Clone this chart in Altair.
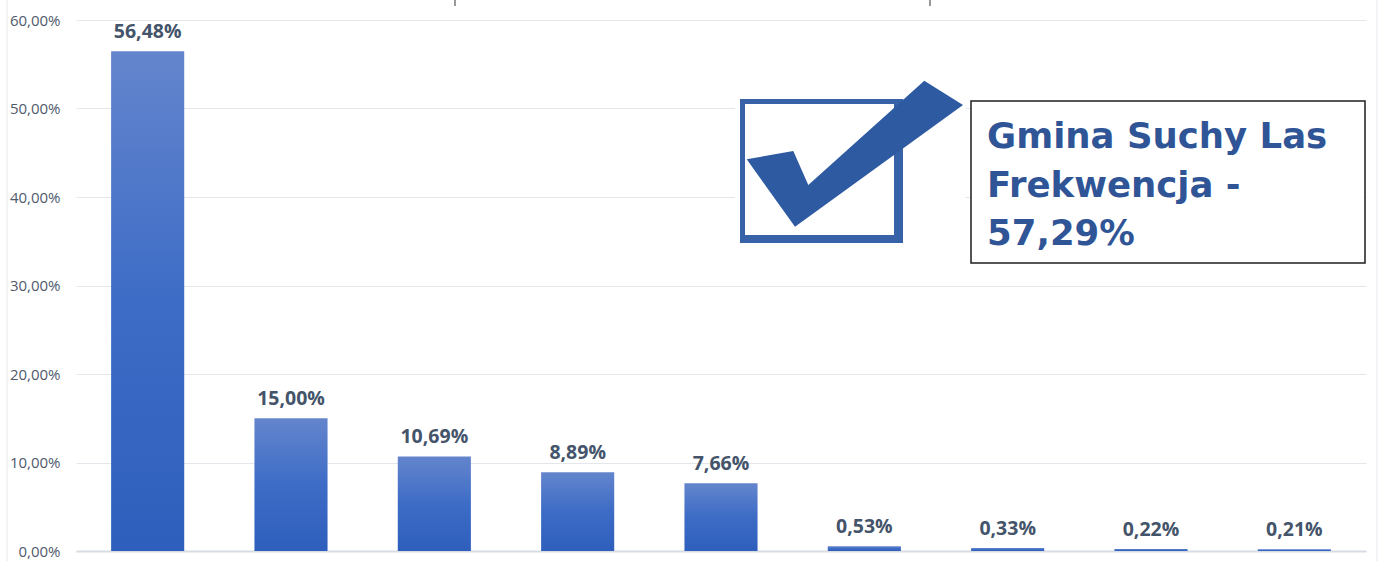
import altair as alt
import pandas as pd

# ---- data ----
categories = ["Kandydat 1", "Kandydat 2", "Kandydat 3", "Kandydat 4", "Kandydat 5",
              "Kandydat 6", "Kandydat 7", "Kandydat 8", "Kandydat 9"]
values = [56.48, 15.00, 10.69, 8.89, 7.66, 0.53, 0.33, 0.22, 0.21]
y_ticks = [0, 10, 20, 30, 40, 50, 60]
box_lines = ["Gmina Suchy Las", "Frekwencja -", "57,29%"]

df = pd.DataFrame({"cat": categories, "value": values})

PLOT_W, PLOT_H = 1290, 531
pct_expr = "replace(format(datum.value, '.2f'), '.', ',') + '%'"

x_enc = alt.X("cat:N", sort=None, title=None,
              scale=alt.Scale(paddingInner=0.49, paddingOuter=0.245),
              axis=alt.Axis(labels=False, ticks=False, domain=True,
                            domainColor="#d7dce3", domainWidth=2))
y_enc = alt.Y("value:Q", title=None,
              scale=alt.Scale(domain=[0, 60], nice=False, zero=True),
              axis=alt.Axis(values=y_ticks, labelExpr=pct_expr, ticks=False, domain=False,
                            grid=True, gridColor="#e3e7ec", gridWidth=1,
                            labelFont="Open Sans", labelFontSize=15, labelColor="#4f5a6c",
                            labelPadding=16))

grad = alt.Gradient(gradient="linear",
                    stops=[alt.GradientStop(color="#6485cd", offset=0),
                           alt.GradientStop(color="#3d6cc6", offset=0.5),
                           alt.GradientStop(color="#2e5fbc", offset=1)],
                    x1=0, x2=0, y1=0, y2=1)

base = alt.Chart(df)
bars = base.mark_bar(color=grad).encode(x=x_enc, y=y_enc)
labels = base.transform_calculate(lab=pct_expr).mark_text(
    font="Open Sans", fontSize=19.5, fontWeight="bold", color="#44546a",
    baseline="alphabetic", dy=-13
).encode(x=x_enc, y=alt.Y("value:Q"), text="lab:N")

one = alt.Data(values=[{"a": 1}])

# frame lines and small artefacts at the top
frame = alt.Chart(one).mark_rule(color="#e4e7ec", strokeWidth=1).encode(
    x=alt.value(-69), y=alt.value(-20), y2=alt.value(541))
frame2 = alt.Chart(one).mark_rule(color="#e4e7ec", strokeWidth=1).encode(
    x=alt.value(1301), y=alt.value(-20), y2=alt.value(541))
tick1 = alt.Chart(one).mark_rule(color="#333333", strokeWidth=1).encode(
    x=alt.value(379), y=alt.value(-20), y2=alt.value(-14))
tick2 = alt.Chart(one).mark_rule(color="#333333", strokeWidth=1).encode(
    x=alt.value(854), y=alt.value(-20), y2=alt.value(-14))

# checkbox image
img_bg = alt.Chart(one).mark_rect(color="white").encode(
    x=alt.value(659), x2=alt.value(889), y=alt.value(60), y2=alt.value(230))
box_outer = alt.Chart(one).mark_rect(color="#3862a8").encode(
    x=alt.value(664), x2=alt.value(827), y=alt.value(79), y2=alt.value(223))
box_inner = alt.Chart(one).mark_rect(color="white").encode(
    x=alt.value(669), x2=alt.value(818), y=alt.value(84), y2=alt.value(215))
check_path = "M -103.3 4.3 L -56.7 -4 L -41.7 30 L 74.3 -74.3 L 113 -50 L -55 71.7 Z"
check = alt.Chart(one).mark_point(shape=check_path, filled=True, size=4, opacity=1,
                                  color="#2e5aa2", strokeWidth=0).encode(
    x=alt.value(774), y=alt.value(135))

# text box
tbox = alt.Chart(one).mark_rect(fill="white", stroke="#1e1e1e", strokeWidth=1.5).encode(
    x=alt.value(895), x2=alt.value(1289), y=alt.value(81), y2=alt.value(243))
ttext = alt.Chart(one).mark_text(
    text=box_lines, font="DejaVu Sans", fontWeight="bold", fontSize=35.5,
    color="#2f5597", align="left", baseline="alphabetic", lineHeight=48.5
).encode(x=alt.value(911), y=alt.value(128))

chart = alt.layer(
    frame, frame2, tick1, tick2, bars, labels,
    img_bg, box_outer, box_inner, check, tbox, ttext
).properties(
    width=PLOT_W, height=PLOT_H,
    padding={"left": 76, "top": 20, "right": 14, "bottom": 10},
    autosize="none", background="white"
).configure_view(stroke=None)

chart.save("out.html", embed_options={"renderer": "svg", "actions": False})
